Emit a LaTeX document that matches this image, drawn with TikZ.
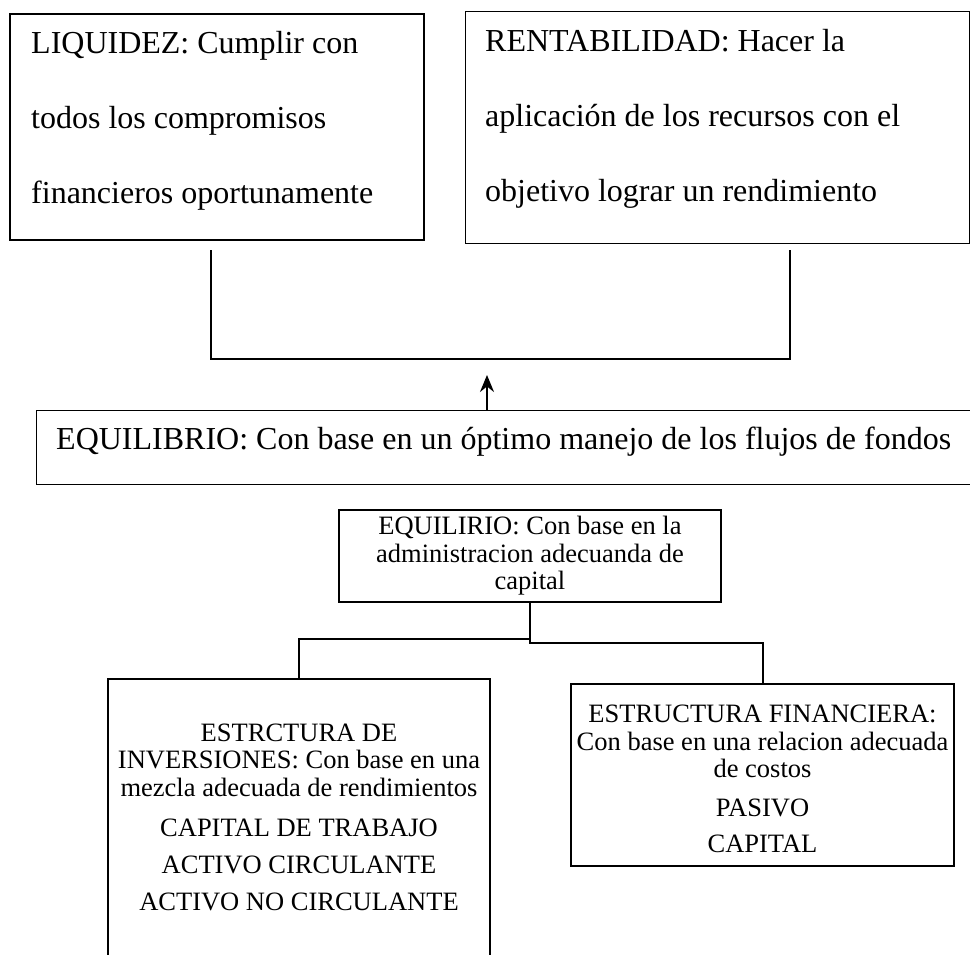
\documentclass[tikz,border=0pt]{standalone}
\usepackage{fontspec}
\setmainfont{Liberation Serif}
\usetikzlibrary{arrows.meta,positioning,calc}
\tikzset{>=Stealth}
\tikzset{
  cajagruesa/.style={draw, line width=2.4pt, inner sep=0pt},
  cajafina/.style={draw, line width=1pt, inner sep=0pt},
  textogrande/.style={inner sep=0pt, font=\fontsize{32}{38}\selectfont},
  textochico/.style={inner sep=0pt, font=\fontsize{26.5}{30}\selectfont},
  linea/.style={line width=2.2pt},
}

\begin{document}
\begin{tikzpicture}[x=1pt, y=-1pt]
\useasboundingbox (0,0) rectangle (970,955);

% Cajas de arriba: liquidez y rentabilidad
\node[cajagruesa, minimum width=414, minimum height=226] (liq) at (217,127) {};
\node[cajafina, minimum width=504, minimum height=231] (rent) at (717,127.5) {};

\foreach \t [count=\i] in {LIQUIDEZ: Cumplir con, todos los compromisos, financieros oportunamente}
  \node[textogrande, anchor=base west] (liq\i) at (31,{54+75*(\i-1)}) {\t};
\foreach \t [count=\i] in {RENTABILIDAD: Hacer la, aplicación de los recursos con el, objetivo lograr un rendimiento}
  \node[textogrande, anchor=base west] (rent\i) at (485,{52+75*(\i-1)}) {\t};

% Union de las dos cajas
\coordinate (liqpie) at (211,250);
\coordinate (rentpie) at (790,250);
\draw[linea] (liqpie) -- ++(0,109) -| (rentpie);

% Equilibrio (flujos de fondos)
\node[cajafina, minimum width=939, minimum height=74] (eq) at (505.5,447) {};
\node[textogrande, anchor=base west] (eqtxt) at (56,449) {EQUILIBRIO: Con base en un óptimo manejo de los flujos de fondos};
\coordinate (punta) at (487,375);
\draw[linea, -{Stealth[length=17pt, width=14pt]}] (eq.north -| punta) -- (punta);

% Equilibrio (capital)
\node[cajagruesa, line width=2pt, minimum width=382, minimum height=92] (eqcap) at (530,556) {};
\foreach \t/\yy [count=\i] in {EQUILIRIO: Con base en la/534, administracion adecuanda de/562, capital/589}
  \node[textochico, anchor=base] (eqcap\i) at (530,\yy) {\t};

% Estructuras
\node[cajagruesa, line width=2pt, minimum width=382, minimum height=296] (inv) at (299,827) {};
\node[cajagruesa, line width=2pt, minimum width=383, minimum height=182] (fin) at (762.5,775) {};

\foreach \t/\yy [count=\i] in {ESTRCTURA DE/741, INVERSIONES: Con base en una/768, mezcla adecuada de rendimientos/796, CAPITAL DE TRABAJO/836, ACTIVO CIRCULANTE/873, ACTIVO NO CIRCULANTE/910}
  \node[textochico, anchor=base] (inv\i) at (299,\yy) {\t};
\foreach \t/\yy [count=\i] in {ESTRUCTURA FINANCIERA:/722, Con base en una relacion adecuada/750, de costos/777, PASIVO/816, CAPITAL/852}
  \node[textochico, anchor=base] (fin\i) at (762.5,\yy) {\t};

\draw[linea, line width=2pt] (eqcap.south) -- ++(0,36) -| (inv.north);
\draw[linea, line width=2pt] (eqcap.south) -- ++(0,40) -| (fin.north);

\end{tikzpicture}
\end{document}
